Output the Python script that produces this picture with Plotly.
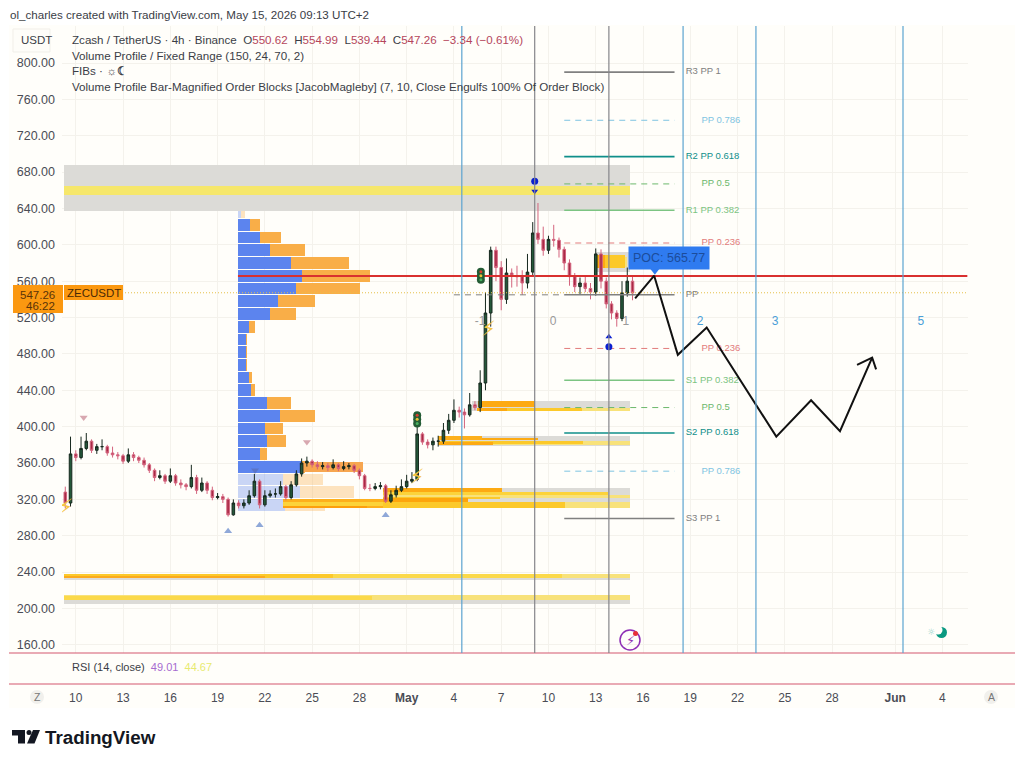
"""
Zcash / TetherUS 4h chart with volume profile, order blocks, pivot levels
and a hand drawn forecast path.
"""

import pandas as pd
import plotly.graph_objects as go

# ======================================================
# DATA
# ======================================================

# candles every 8h
candle_start = "2026-04-09 08:00"
opens = [
    328, 316, 370, 366, 376, 384, 374, 378, 378, 371, 369, 368, 362, 369, 366, 363,
    358, 352, 344, 346, 340, 346, 338, 336, 334, 344, 330, 338, 330, 322, 323, 320,
    303, 316, 313, 316, 324, 340, 314, 324, 326, 326, 334, 322, 336, 348, 360, 362,
    358, 356, 357, 355, 358, 354, 356, 357, 352, 346, 332, 332, 334, 335, 318, 325,
    330, 334, 340, 342, 392, 383, 380, 384, 384, 396, 407, 418, 416, 413, 424, 421,
    448, 525, 594, 575, 540, 569, 566, 565, 558, 570, 613, 606, 594, 606, 605, 595,
    580, 565, 554, 558, 552, 548, 590, 560, 535, 525, 519, 547, 560,
]
highs = [
    334, 389, 374, 389, 393, 386, 381, 386, 380, 378, 372, 370, 376, 372, 368, 366,
    360, 354, 352, 348, 354, 348, 342, 338, 358, 347, 344, 340, 334, 327, 326, 322,
    320, 319, 320, 330, 348, 342, 330, 330, 332, 340, 336, 340, 352, 365, 367, 364,
    362, 361, 360, 364, 360, 362, 360, 359, 354, 348, 337, 338, 339, 337, 330, 335,
    342, 347, 350, 400, 394, 386, 388, 390, 404, 414, 430, 422, 420, 437, 428, 462,
    548, 598, 598, 582, 585, 574, 577, 572, 590, 625, 646, 620, 610, 622, 608, 598,
    584, 569, 564, 566, 558, 596, 595, 564, 538, 528, 560, 575, 565,
]
lows = [
    310, 312, 362, 364, 374, 371, 370, 374, 368, 366, 364, 359, 360, 362, 360, 355,
    349, 340, 342, 337, 338, 335, 332, 330, 332, 326, 328, 326, 319, 320, 316, 301,
    302, 310, 310, 314, 322, 310, 312, 322, 322, 324, 319, 320, 334, 345, 356, 355,
    353, 353, 351, 353, 351, 352, 353, 349, 342, 330, 329, 330, 331, 316, 316, 322,
    328, 332, 338, 340, 380, 376, 374, 378, 381, 392, 404, 410, 398, 411, 418, 416,
    440, 510, 560, 528, 535, 553, 554, 545, 552, 566, 601, 588, 590, 598, 586, 572,
    555, 548, 546, 548, 540, 544, 552, 530, 518, 510, 516, 543, 539,
]
closes = [
    316, 370, 366, 376, 384, 374, 378, 378, 371, 369, 368, 362, 369, 366, 363, 358,
    352, 344, 346, 340, 346, 338, 336, 334, 344, 330, 338, 330, 322, 323, 320, 303,
    316, 313, 316, 324, 340, 314, 324, 326, 326, 334, 322, 336, 348, 360, 362, 358,
    356, 357, 355, 358, 354, 356, 357, 352, 346, 332, 332, 334, 335, 318, 325, 330,
    334, 340, 342, 392, 383, 380, 384, 384, 396, 407, 418, 416, 413, 424, 421, 448,
    525, 594, 575, 540, 569, 566, 565, 558, 570, 613, 606, 594, 606, 605, 595, 580,
    565, 554, 558, 552, 548, 590, 560, 535, 525, 519, 547, 560, 547,
]

# volume profile, one row per price level (widths in chart units)
vp_start = "2026-04-20 07:00"
vp_prices = [636, 622, 608, 594, 580, 566, 552, 538, 524, 510, 496, 482,
             468, 454, 440, 426, 412, 398, 384, 370, 356, 342, 328, 314]
vp_up = [10, 35, 65, 95, 160, 191, 175, 120, 95, 33, 25, 25,
         25, 33, 40, 88, 127, 81, 88, 65, 195, 135, 185, 142]
vp_down = [10, 30, 63, 105, 173, 206, 190, 110, 80, 17, 2, 2,
           2, 9, 10, 72, 103, 55, 55, 23, 5, 120, 163, 120]
vp_fade = [1, 0, 0, 0, 0, 0, 0, 0, 0, 0, 0, 0,
           0, 0, 0, 0, 0, 0, 0, 0, 0, 1, 1, 1]

# order blocks: back to front
ob_left = "2026-04-09 06:00"
ob_right = "2026-05-15 04:00"
ob_starts = [
    ob_left, ob_left,
    "2026-05-13 00:00", "2026-05-13 00:00", "2026-05-13 00:00", "2026-05-13 00:00",
    "2026-05-05 03:00", "2026-05-05 12:00", "2026-05-05 11:00", "2026-05-05 11:00", "2026-05-05 11:00",
    "2026-05-03 00:00", "2026-05-03 00:00", "2026-05-03 00:00", "2026-05-05 19:00", "2026-05-03 00:00", "2026-05-03 00:00",
    "2026-04-29 12:00", "2026-04-29 12:00", "2026-04-29 12:00", "2026-04-29 12:00",
    "2026-04-29 12:00", "2026-04-29 12:00", "2026-04-29 12:00",  "2026-04-29 12:00",
    "2026-04-23 03:00", "2026-04-23 03:00", "2026-04-23 03:00",
    "2026-04-24 10:00",
    ob_left, ob_left, ob_left, ob_left, ob_left,
    ob_left, ob_left, ob_left,
]
ob_ends = [
    ob_right, ob_right,
    "2026-05-15 04:00", "2026-05-15 00:00", "2026-05-14 20:00", "2026-05-13 14:00",
    ob_right, "2026-05-09 03:00", ob_right, "2026-05-12 03:00", "2026-05-07 09:00",
    ob_right, ob_right, "2026-05-12 05:00", "2026-05-09 08:00", "2026-05-05 19:00", "2026-05-06 12:00",
    ob_right, ob_right, "2026-05-13 18:00", "2026-05-07 01:00",
    ob_right, "2026-05-11 01:00", "2026-05-06 22:00", "2026-05-04 21:00",
    "2026-04-29 12:00", "2026-04-28 12:00", "2026-04-29 12:00",
    "2026-04-28 05:00",
    ob_right, ob_right, "2026-05-10 20:00", "2026-04-26 08:00", "2026-04-22 00:00",
    ob_right, ob_right, "2026-04-28 19:00",
]
ob_bottoms = [
    637, 655,
    570, 576, 574, 574,
    417, 422, 417, 417, 417,
    378.5, 380, 381, 385, 385, 380,
    311, 321, 324.5, 328,
    311, 311, 320, 317,
    310, 310, 313,
    350,
    231.5, 233.5, 233.5, 234, 233,
    205, 209, 209.5,
]
ob_tops = [
    688, 665,
    592, 587, 589, 589,
    428, 428, 421, 421, 420,
    390, 384, 384, 388, 390, 383,
    333, 324.5, 328, 333,
    317, 317, 323, 322,
    320, 316, 317,
    361,
    238, 238, 238, 238, 236,
    214.5, 214.5, 214,
]
ob_colors = [
    "#dcdbd7", "#f6e76b",
    "#dcdbd7", "#f9e27a", "#fcc92a", "#fdaa12",
    "#dcdbd7", "#fdaa12", "#f8e27a", "#fcc92a", "#fdaa12",
    "#dcdbd7", "#f8e27a", "#fcc92a", "#fdaa12", "#fdb01c", "#fdaa12",
    "#dcdbd7", "#f8e27a", "#fcd33a", "#fdaa12",
    "#f8e27a", "#fcc92a", "#fcc92a", "#fda50c",
    "#fdb01c", "#fd9f0c", "#fcd33a",
    "#f7a650",
    "#dcdbd7", "#f8e27a", "#fbd94a", "#fcc92a", "#fbaa1c",
    "#dcdbd7", "#f8e27a", "#fbd94a",
]

# pivot levels
pivot_names = ["R3 PP 1", "PP 0.786", "R2 PP 0.618", "PP 0.5", "R1 PP 0.382", "PP 0.236", "PP",
               "PP 0.236", "S1 PP 0.382", "PP 0.5", "S2 PP 0.618", "PP 0.786", "S3 PP 1"]
pivot_prices = [790, 737, 697, 667, 638, 602, 545, 486, 451, 421, 393, 351, 299]
pivot_colors = ["#808080", "#7fc4e2", "#0f8f8a", "#6cb86c", "#7cc482", "#e27c7c", "#808080",
                "#e27c7c", "#7cc482", "#6cb86c", "#0f8f8a", "#7fc4e2", "#808080"]
pivot_dashes = ["solid", "dash", "solid", "dash", "solid", "dash", "solid",
                "dash", "solid", "dash", "solid", "dash", "solid"]
pivot_from = "2026-05-11 00:00"
pivot_to = "2026-05-18 00:00"
pivot_label_solid = "2026-05-18 17:00"
pivot_label_dash = "2026-05-19 17:00"

# vertical time lines
blue_lines = ["2026-05-04 12:00", "2026-05-18 13:00", "2026-05-23 04:00", "2026-06-01 12:00"]
grey_lines = ["2026-05-09 03:00", "2026-05-13 20:00"]

# fib time numbers
fib_days = ["2026-05-05 16:00", "2026-05-10 07:00", "2026-05-14 22:00",
            "2026-05-19 15:00", "2026-05-24 09:00", "2026-06-02 15:00"]
fib_text = ["-1", "0", "1", "2", "3", "5"]
fib_colors = ["#9a9a9a", "#9a9a9a", "#9a9a9a", "#4a9fd8", "#4a9fd8", "#4a9fd8"]

# forecast path
path_dates = ["2026-05-15 12:00", "2026-05-16 17:00", "2026-05-18 05:00", "2026-05-20 01:00",
              "2026-05-24 11:00", "2026-05-26 16:00", "2026-05-28 12:00", "2026-05-30 13:00"]
path_prices = [541, 566, 479, 509, 389, 429, 395, 476]
arrow_dates = ["2026-05-29 14:00", "2026-05-30 13:00", "2026-05-30 19:00"]
arrow_prices = [468, 476, 463]

poc_price = 565.77
last_price = 547.26

tick_dates = ["2026-04-10", "2026-04-13", "2026-04-16", "2026-04-19", "2026-04-22", "2026-04-25",
              "2026-04-28", "2026-05-01", "2026-05-04", "2026-05-07", "2026-05-10", "2026-05-13",
              "2026-05-16", "2026-05-19", "2026-05-22", "2026-05-25", "2026-05-28", "2026-06-01", "2026-06-04"]
tick_text = ["10", "13", "16", "19", "22", "25", "28", "<b>May</b>", "4", "7", "10", "13",
             "16", "19", "22", "25", "28", "<b>Jun</b>", "4"]
price_ticks = [160, 200, 240, 280, 320, 360, 400, 440, 480, 520, 560, 600, 640, 680, 720, 760, 800]

# signal markers
up_tri_x = ["2026-04-19 16:00", "2026-04-21 16:00", "2026-04-29 16:00"]
up_tri_y = [285, 291.5, 302.5]
down_tri_x = ["2026-04-10 12:00", "2026-04-24 16:00"]
down_tri_y = [410, 383]
block_tri_x = ["2026-04-21 09:00"]
block_tri_y = [352]
dot_x = ["2026-05-09 03:00", "2026-05-13 20:00"]
dot_y = [670, 488]
bolt_x = ["2026-04-09 09:00", "2026-05-06 05:00", "2026-05-01 16:00"]
bolt_y = [310, 506, 343]
light_x = ["2026-05-05 17:00", "2026-05-01 16:00"]
light_y = [566, 408]

FONT = "Liberation Sans"
W, H = 1024, 764


def fx(px):
    return px / W


def fy(px):
    return 1 - px / H


# ======================================================
# FIGURE
# ======================================================

fig = go.Figure()

candle_dates = pd.date_range(candle_start, periods=len(closes), freq="8h")
day_ms = 86400000
vp_unit = day_ms / 3 / 15.75

up_width = [v * vp_unit for v in vp_up]
down_width = [v * vp_unit for v in vp_down]
down_base = [pd.Timestamp(vp_start) + pd.Timedelta(milliseconds=v) for v in up_width]
fade = [0.33 if f else 1 for f in vp_fade]

fig.add_trace(go.Bar(
    y=vp_prices, x=up_width, base=[vp_start] * len(vp_prices), orientation="h", width=12.9,
    marker=dict(color="#5c84ee", opacity=fade, line_width=0), hoverinfo="skip",
))
fig.add_trace(go.Bar(
    y=vp_prices, x=down_width, base=down_base, orientation="h", width=12.9,
    marker=dict(color="#f9ae48", opacity=fade, line_width=0), hoverinfo="skip",
))

ob_width = [(pd.Timestamp(e) - pd.Timestamp(s)).total_seconds() * 1000 for s, e in zip(ob_starts, ob_ends)]
ob_mid = [(a + b) / 2 for a, b in zip(ob_bottoms, ob_tops)]
ob_height = [b - a for a, b in zip(ob_bottoms, ob_tops)]
fig.add_trace(go.Bar(
    y=ob_mid, x=ob_width, base=ob_starts, orientation="h", width=ob_height,
    marker=dict(color=ob_colors, line_width=0), hoverinfo="skip",
))

fig.add_trace(go.Candlestick(
    x=candle_dates, open=opens, high=highs, low=lows, close=closes, whiskerwidth=0,
    increasing=dict(line=dict(color="#16281e", width=1), fillcolor="#24583a"),
    decreasing=dict(line=dict(color="#d4647e", width=1), fillcolor="#a92a46"),
    hoverinfo="skip",
))

# pivots
for name, price, color, dash in zip(pivot_names, pivot_prices, pivot_colors, pivot_dashes):
    fig.add_trace(go.Scatter(x=[pivot_from, pivot_to], y=[price, price], mode="lines",
                             line=dict(color=color, width=1.6 if dash == "solid" else 1,
                                       dash="solid" if dash == "solid" else "6px,5px"),
                             hoverinfo="skip"))
    label_x = pivot_label_solid if dash == "solid" else pivot_label_dash
    fig.add_trace(go.Scatter(x=[label_x], y=[price], mode="text", text=[name], textposition="middle right",
                             textfont=dict(family=FONT, size=9.5, color=color), hoverinfo="skip"))
fig.add_trace(go.Scatter(x=["2026-05-04 00:00", pivot_from], y=[pivot_prices[6]] * 2, mode="lines",
                         line=dict(color="#808080", width=1, dash="6px,5px"), hoverinfo="skip"))

# POC and last price
fig.add_trace(go.Scatter(x=[vp_start, "2026-06-05 14:00"], y=[poc_price] * 2, mode="lines",
                         line=dict(color="#d9302f", width=2), hoverinfo="skip"))
fig.add_trace(go.Scatter(x=["2026-04-09 03:00", "2026-06-05 14:00"], y=[last_price] * 2, mode="lines",
                         line=dict(color="#e6c04a", width=1, dash="1px,2px"), hoverinfo="skip"))

# forecast
fig.add_trace(go.Scatter(x=path_dates, y=path_prices, mode="lines",
                         line=dict(color="#111111", width=2), hoverinfo="skip"))
fig.add_trace(go.Scatter(x=arrow_dates, y=arrow_prices, mode="lines",
                         line=dict(color="#111111", width=2), hoverinfo="skip"))

# fib numbers
fig.add_trace(go.Scatter(x=fib_days, y=[515] * len(fib_days), mode="text", text=fib_text,
                         textfont=dict(family=FONT, size=12, color=fib_colors), hoverinfo="skip"))

# signal markers
fig.add_trace(go.Scatter(x=up_tri_x, y=up_tri_y, mode="markers", hoverinfo="skip",
                         marker=dict(symbol="triangle-up", size=7, color="#8fa8d8")))
fig.add_trace(go.Scatter(x=down_tri_x, y=down_tri_y, mode="markers", hoverinfo="skip",
                         marker=dict(symbol="triangle-down", size=7, color="#d8a8b0")))
fig.add_trace(go.Scatter(x=block_tri_x, y=block_tri_y, mode="markers", hoverinfo="skip",
                         marker=dict(symbol="triangle-down", size=7, color="#5a74c8")))
fig.add_trace(go.Scatter(x=dot_x, y=dot_y, mode="markers", hoverinfo="skip",
                         marker=dict(symbol="circle", size=7, color="#0a1fd0")))
fig.add_trace(go.Scatter(x=dot_x[:1], y=[659], mode="markers", hoverinfo="skip",
                         marker=dict(symbol="triangle-down", size=6, color="#0a1fd0")))
fig.add_trace(go.Scatter(x=dot_x[1:], y=[499], mode="markers", hoverinfo="skip",
                         marker=dict(symbol="triangle-up", size=6, color="#0a1fd0")))
fig.add_trace(go.Scatter(x=bolt_x, y=bolt_y, mode="text", text=["⚡"] * 3, hoverinfo="skip",
                         textfont=dict(family="DejaVu Sans", size=21, color="#f5c542")))
for lx, ly in zip(light_x, light_y):
    fig.add_trace(go.Scatter(x=[lx] * 3, y=[ly + 4.5, ly, ly - 4.5], mode="markers", hoverinfo="skip",
                             marker=dict(size=8, color="#245c35")))
    fig.add_trace(go.Scatter(x=[lx] * 3, y=[ly + 4.5, ly, ly - 4.5], mode="markers", hoverinfo="skip",
                             marker=dict(size=3, color=["#d9402f", "#e8c33a", "#49b060"])))

# POC callout tail
fig.add_trace(go.Scatter(x=["2026-05-16 18:00"], y=[572], mode="markers", hoverinfo="skip",
                         marker=dict(symbol="triangle-down", size=9, color="#2f7bf0")))

# empty RSI pane so the date axis under it has a subplot
fig.add_trace(go.Scatter(x=candle_dates[:1], y=[49.01], mode="none", xaxis="x2", yaxis="y2", hoverinfo="skip"))

# ======================================================
# SHAPES
# ======================================================

shapes = [
    dict(type="rect", xref="paper", yref="paper", x0=fx(9), x1=fx(1015), y0=fy(25), y1=fy(708),
         fillcolor="#fffefa", line_width=0, layer="below"),
    dict(type="rect", xref="paper", yref="paper", x0=fx(13), x1=fx(50), y0=fy(29), y1=fy(52),
         fillcolor="#fefdf9", line=dict(color="#f1efe9", width=1), layer="below"),
    dict(type="line", xref="paper", yref="paper", x0=fx(9), x1=fx(1015), y0=fy(653), y1=fy(653),
         line=dict(color="#d4566f", width=1.2)),
    dict(type="line", xref="paper", yref="paper", x0=fx(9), x1=fx(1015), y0=fy(684), y1=fy(684),
         line=dict(color="#d4566f", width=1.2)),
    # last price boxes
    dict(type="rect", xref="paper", yref="paper", x0=fx(13), x1=fx(63), y0=fy(285), y1=fy(313),
         fillcolor="#fb9810", line_width=0),
    dict(type="rect", xref="paper", yref="paper", x0=fx(64), x1=fx(123), y0=fy(285), y1=fy(300),
         fillcolor="#fb9810", line_width=0),
    # axis buttons
    dict(type="circle", xref="paper", yref="paper", x0=fx(30), x1=fx(44), y0=fy(690), y1=fy(704),
         fillcolor="#f1f0ec", line_width=0),
    dict(type="circle", xref="paper", yref="paper", x0=fx(984), x1=fx(998), y0=fy(690), y1=fy(704),
         fillcolor="#f1f0ec", line_width=0),
    # bolt badge
    dict(type="circle", xref="paper", yref="paper", x0=fx(620), x1=fx(640), y0=fy(630), y1=fy(650),
         line=dict(color="#8e2fb5", width=1.5)),
    dict(type="circle", xref="paper", yref="paper", x0=fx(633), x1=fx(638), y0=fy(631), y1=fy(636),
         fillcolor="#e8313a", line_width=0),
    # theme icon, crescent
    dict(type="circle", xref="paper", yref="paper", x0=fx(936), x1=fx(947), y0=fy(627), y1=fy(638),
         fillcolor="#0a9981", line_width=0),
    dict(type="circle", xref="paper", yref="paper", x0=fx(933.5), x1=fx(942.5), y0=fy(625.5), y1=fy(634.5),
         fillcolor="#fffefa", line_width=0),
    # logo
    dict(type="rect", xref="paper", yref="paper", x0=fx(12), x1=fx(25), y0=fy(730), y1=fy(735.5),
         fillcolor="#131722", line_width=0),
    dict(type="rect", xref="paper", yref="paper", x0=fx(18), x1=fx(25), y0=fy(730), y1=fy(743.5),
         fillcolor="#131722", line_width=0),
    dict(type="circle", xref="paper", yref="paper", x0=fx(26.5), x1=fx(31.5), y0=fy(730), y1=fy(735),
         fillcolor="#131722", line_width=0),
    dict(type="path", xref="paper", yref="paper",
         path=f"M {fx(33)} {fy(730)} L {fx(40)} {fy(730)} L {fx(34.5)} {fy(743.5)} L {fx(27)} {fy(743.5)} Z",
         fillcolor="#131722", line_width=0),
]
for d in blue_lines:
    shapes.append(dict(type="line", xref="x", yref="y domain", x0=d, x1=d, y0=0, y1=1,
                       line=dict(color="#5ba3d0", width=1.2)))
for d in grey_lines:
    shapes.append(dict(type="line", xref="x", yref="y domain", x0=d, x1=d, y0=0, y1=1,
                       line=dict(color="#85858a", width=1.2)))

# ======================================================
# TEXT
# ======================================================

red = "#b5465c"


def label(px, py, text, size=11.5, color="#3a3d46", anchor="left", family=FONT):
    return dict(xref="paper", yref="paper", x=fx(px), y=fy(py), text=text, showarrow=False,
                xanchor=anchor, yanchor="middle", align=anchor,
                font=dict(family=family, size=size, color=color))


annotations = [
    label(7.5, 14, "ol_charles created with TradingView.com, May 15, 2026 09:13 UTC+2", 11.6),
    label(36, 40, "USDT", 11.5, anchor="center"),
    label(69.5, 39, f'Zcash / TetherUS · 4h · Binance  O<span style="color:{red}">550.62</span>'
                    f'  H<span style="color:{red}">554.99</span>  L<span style="color:{red}">539.44</span>'
                    f'  C<span style="color:{red}">547.26</span>  <span style="color:{red}">−3.34 (−0.61%)</span>', 11.6),
    label(69.5, 55, "Volume Profile / Fixed Range (150, 24, 70, 2)", 11.6),
    label(69.5, 71, "FIBs · ☼<b>☾</b>", 11.6),
    label(69.5, 86, "Volume Profile Bar-Magnified Order Blocks [JacobMagleby] (7, 10, Close Engulfs 100% Of Order Block)", 11.6),
    label(69.5, 667, 'RSI (14, close)  <span style="color:#a66bd0">49.01</span>  <span style="color:#e8ea70">44.67</span>', 11),
    label(57, 295, "547.26", 11.5, "#5a3408", "right"),
    label(57, 306, "46:22", 11.5, "#5a3408", "right"),
    label(93.5, 292.5, "ZECUSDT", 11.5, "#4a2a05", "center"),
    label(37, 697, "Z", 10.5, "#777777", "center"),
    label(991, 697, "A", 10.5, "#777777", "center"),
    label(43, 737, "<b>TradingView</b>", 18.8, "#131722"),
    label(630, 640, "⚡", 13, "#8e2fb5", "center", "DejaVu Sans"),
    label(931, 632, "☼", 9, "#8fd0c8", "center", "DejaVu Sans"),
    dict(xref="paper", yref="paper", x=fx(669), y=fy(258), text="POC: 565.77", showarrow=False,
         xanchor="center", yanchor="middle", bgcolor="#2f7bf0", borderpad=4,
         font=dict(family=FONT, size=12.5, color="#1c4c9a")),
]

# ======================================================
# LAYOUT
# ======================================================

x_range = ["2026-04-09 03:00", "2026-06-05 15:00"]
fig.update_layout(
    width=W, height=H, autosize=False,
    margin=dict(l=0, r=0, t=0, b=0),
    paper_bgcolor="#ffffff", plot_bgcolor="rgba(0,0,0,0)",
    showlegend=False, barmode="overlay", hovermode=False, dragmode=False,
    bargap=0,
    xaxis=dict(type="date", domain=[fx(62), fx(968)], range=x_range, anchor="y",
               tickvals=tick_dates, showticklabels=False, showgrid=True, gridcolor="#f4f2ec",
               gridwidth=1, zeroline=False, rangeslider=dict(visible=False), showline=False),
    xaxis2=dict(type="date", domain=[fx(62), fx(968)], range=x_range, anchor="y2",
                tickvals=tick_dates, ticktext=tick_text, showgrid=False, zeroline=False, showline=False,
                ticks="", ticklabelstandoff=5, tickangle=0, tickfont=dict(family=FONT, size=12, color="#4a4c55")),
    yaxis=dict(domain=[fy(653), fy(26)], range=[151, 840.7], anchor="x", tickvals=price_ticks,
               tickformat=".2f", showgrid=True, gridcolor="#f4f2ec", zeroline=False, showline=False,
               ticks="", ticklabelstandoff=6, tickfont=dict(family=FONT, size=12.5, color="#4a4c55")),
    yaxis2=dict(domain=[fy(684), fy(653)], range=[0, 100], anchor="x2", showgrid=False, zeroline=False,
                showticklabels=False, showline=False),
    shapes=shapes,
    annotations=annotations,
)

fig.write_html("out.html", config={"displayModeBar": False}, post_script="document.body.style.margin='0';")
